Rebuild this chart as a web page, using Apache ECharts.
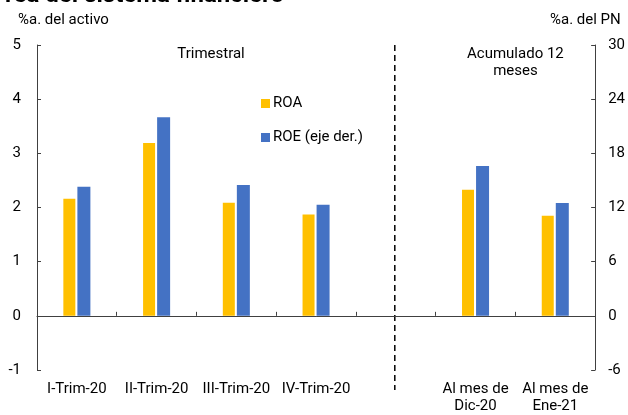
<!DOCTYPE html>
<html>
<head>
<meta charset="utf-8">
<script src="https://cdn.jsdelivr.net/npm/echarts@6/dist/echarts.min.js"></script>
<style>
  html, body { margin: 0; padding: 0; background: #fff; }
  #chart { width: 628px; height: 415px; }
</style>
</head>
<body>
<div id="chart"></div>
<script>
// datos
var categorias = ['I-Trim-20', 'II-Trim-20', 'III-Trim-20', 'IV-Trim-20', '', 'Al mes de\nDic-20', 'Al mes de\nEne-21'];
var roa = [2.16, 3.19, 2.09, 1.87, null, 2.33, 1.85];
var roe = [14.3, 22.0, 14.5, 12.3, null, 16.6, 12.5];
var ticksIzq = [-1, 5, 1];   // min, max, intervalo
var ticksDer = [-6, 30, 6];

var fuente = 'Roboto, "Noto Sans", sans-serif';
var myChart = echarts.init(document.getElementById('chart'));
var option = {
    animation: false,
    textStyle: { fontFamily: fuente },
    title: {
        text: 'rea del sistema financiero',
        left: 0,
        top: -21,
        textStyle: { fontSize: 24, fontWeight: 'bold', color: '#000', fontFamily: fuente }
    },
    legend: {
        orient: 'vertical',
        left: 256,
        top: 91,
        itemWidth: 9,
        itemHeight: 9,
        itemGap: 19,
        icon: 'rect',
        textStyle: { fontSize: 15, color: '#000', padding: [0, 0, 0, -2] },
        data: ['ROA', 'ROE (eje der.)']
    },
    grid: { left: 37, right: 28, top: 45, bottom: 42 },
    xAxis: [
        {
            type: 'category',
            data: categorias,
            axisLine: { onZero: true, lineStyle: { color: '#404040', width: 1 } },
            axisTick: { show: true, inside: true, length: 4, lineStyle: { color: '#404040' } },
            axisLabel: { show: false }
        },
        {
            type: 'category',
            data: categorias,
            position: 'bottom',
            axisLine: { show: false, onZero: false },
            axisTick: { show: false },
            axisLabel: { show: true, interval: 0, fontSize: 15, color: '#000', margin: 11, lineHeight: 17 }
        }
    ],
    yAxis: [
        {
            type: 'value',
            min: ticksIzq[0], max: ticksIzq[1], interval: ticksIzq[2],
            axisLine: { show: true, lineStyle: { color: '#404040' } },
            axisTick: { show: true, inside: true, length: 4, lineStyle: { color: '#404040' } },
            axisLabel: { fontSize: 15, color: '#000', margin: 16 },
            splitLine: { show: false }
        },
        {
            type: 'value',
            min: ticksDer[0], max: ticksDer[1], interval: ticksDer[2],
            position: 'right',
            axisLine: { show: true, lineStyle: { color: '#404040' } },
            axisTick: { show: true, inside: true, length: 4, lineStyle: { color: '#404040' } },
            axisLabel: { fontSize: 15, color: '#000', margin: 13 },
            splitLine: { show: false }
        }
    ],
    series: [
        {
            name: 'ROA',
            type: 'bar',
            data: roa,
            barWidth: 12,
            barGap: '17%',
            itemStyle: { color: '#FFC000' }
        },
        {
            name: 'ROE (eje der.)',
            type: 'bar',
            yAxisIndex: 1,
            data: roe,
            barWidth: 13,
            itemStyle: { color: '#4472C4' }
        }
    ]
};
myChart.setOption(option, true);

// línea punteada y textos, ubicados desde las escalas
var xSep = myChart.convertToPixel({ xAxisIndex: 0 }, '') - 1;
var yTop = myChart.convertToPixel({ yAxisIndex: 0 }, 5);
var xAcum = (myChart.convertToPixel({ xAxisIndex: 0 }, categorias[5]) + myChart.convertToPixel({ xAxisIndex: 0 }, categorias[6])) / 2;
myChart.setOption({
    graphic: [
        {
            type: 'line',
            shape: { x1: xSep, y1: yTop, x2: xSep, y2: 390 },
            style: { stroke: '#000', lineWidth: 1.5, lineDash: [6, 4] }
        },
        {
            type: 'text', x: 211, y: 47,
            style: { text: 'Trimestral', fill: '#000', font: '15px ' + fuente, textAlign: 'center' }
        },
        {
            type: 'text', x: xAcum, y: 46,
            style: { text: 'Acumulado 12\nmeses', fill: '#000', font: '15px ' + fuente, textAlign: 'center', lineHeight: 17 }
        },
        {
            type: 'text', x: 18, y: 13,
            style: { text: '%a. del activo', fill: '#000', font: '15px ' + fuente }
        },
        {
            type: 'text', x: 550, y: 13,
            style: { text: '%a. del PN', fill: '#000', font: '15px ' + fuente }
        }
    ]
});
</script>
</body>
</html>
